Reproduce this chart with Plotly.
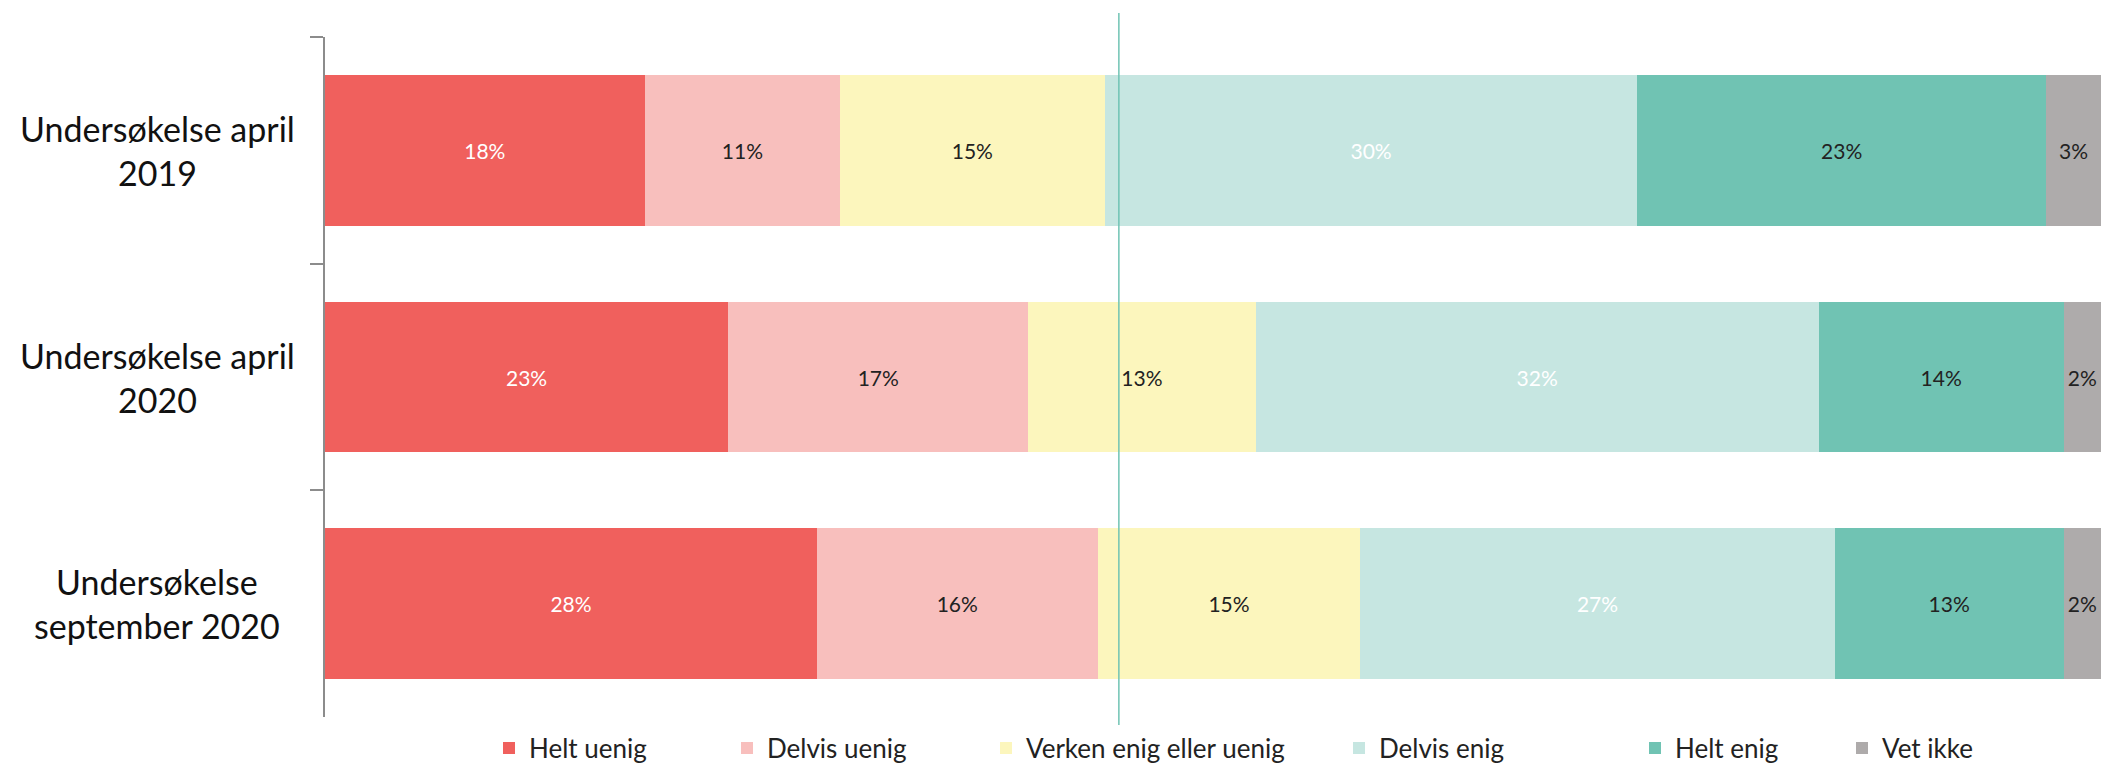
import plotly.graph_objects as go

categories = ["Undersøkelse april<br>2019", "Undersøkelse april<br>2020", "Undersøkelse<br>september 2020"]
series_names = ["Helt uenig", "Delvis uenig", "Verken enig eller uenig", "Delvis enig", "Helt enig", "Vet ikke"]
helt_uenig = [18.0, 22.7, 27.7]
delvis_uenig = [11.0, 16.9, 15.8]
verken = [14.9, 12.8, 14.8]
delvis_enig = [30.0, 31.7, 26.7]
helt_enig = [23.0, 13.8, 12.9]
vet_ikke = [3.1, 2.1, 2.1]
series_values = [helt_uenig, delvis_uenig, verken, delvis_enig, helt_enig, vet_ikke]
reference_x = 44.7

colors = ["#F0605D", "#F8BFBD", "#FCF6BD", "#C6E6E1", "#70C3B3", "#AEABAB"]
text_colors = ["#FFFFFF", "#222222", "#222222", "#FFFFFF", "#222222", "#222222"]

W, H = 2103, 763
L, R, T, B = 325, 2, 37, 46
pw = W - L - R
ph = H - T - B

def px_to_paper_x(px):
    return (px - L) / pw

legend_text_left = [526, 764, 1023, 1376, 1672, 1879]
legend_y = (H - B - 748) / ph

FONT = "Lato"
fig = go.Figure()
layout_legends = {}
for i, (name, vals) in enumerate(zip(series_names, series_values)):
    lname = "legend" if i == 0 else f"legend{i+1}"
    fig.add_trace(go.Bar(
        y=categories, x=vals, name=name, orientation="h",
        marker=dict(color=colors[i], line=dict(width=0)),
        texttemplate="%{x:.0f}%", textposition="inside", insidetextanchor="middle",
        constraintext="none",
        textfont=dict(family=FONT, size=21, color=text_colors[i]),
        legend=lname, hoverinfo="skip",
    ))
    layout_legends[lname] = dict(
        x=px_to_paper_x(legend_text_left[i] - 37), xanchor="left",
        y=legend_y, yanchor="middle", orientation="h",
        font=dict(family=FONT, size=26, color="#222222"),
        bgcolor="rgba(0,0,0,0)", borderwidth=0,
    )

fig.update_layout(
    width=W, height=H, barmode="stack", bargap=0.335,
    margin=dict(l=L, r=R, t=T, b=B, autoexpand=False),
    plot_bgcolor="white", paper_bgcolor="white",
    showlegend=True,
    xaxis=dict(range=[0, 100], visible=False),
    yaxis=dict(type="category", autorange="reversed", showticklabels=False,
               showline=True, linecolor="#8C8C8C", linewidth=1.5,
               ticks="outside", ticklen=13, tickcolor="#8C8C8C", tickwidth=1.5,
               tickson="boundaries", showgrid=False, zeroline=False),
    **layout_legends,
)

for cat in categories:
    fig.add_annotation(
        x=px_to_paper_x(157), xref="paper", y=cat, yref="y",
        text=cat, showarrow=False, xanchor="center", yanchor="middle", align="center",
        font=dict(family=FONT, size=34, color="#111111"),
    )

fig.add_shape(type="line", xref="x", yref="paper",
              x0=reference_x, x1=reference_x,
              y0=(H - B - 725) / ph, y1=(H - B - 13) / ph,
              line=dict(color="#70C3B3", width=1.5))

fig.write_html("out.html", config={"displayModeBar": False},
               post_script="document.body.style.margin='0';document.body.style.overflow='hidden';")
